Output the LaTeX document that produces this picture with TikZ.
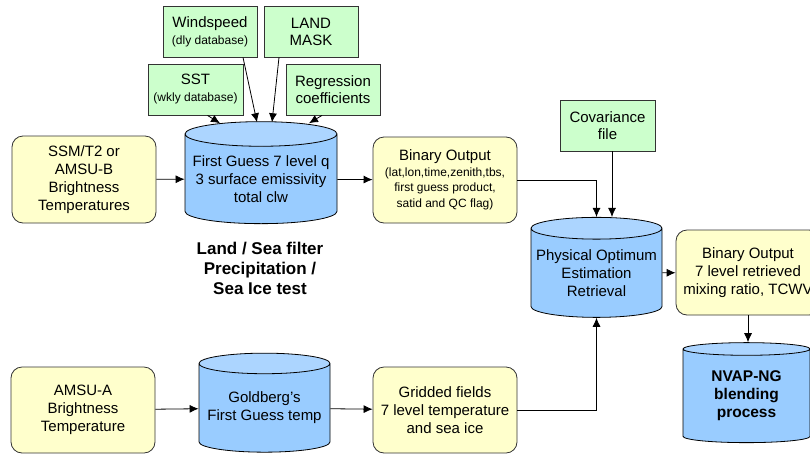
\documentclass[tikz,border=0pt]{standalone}
\usepackage{fontspec}
\setmainfont{Liberation Sans}
\usetikzlibrary{shapes.geometric,arrows.meta}
\definecolor{boxyellow}{RGB}{255,255,204}
\definecolor{boxgreen}{RGB}{204,255,204}
\definecolor{cylbody}{RGB}{153,204,255}
\definecolor{cyltop}{RGB}{172,213,255}
\tikzset{
  databox/.style={draw=black!80, fill=boxyellow, rounded corners=11pt, line width=0.8pt,
    align=center, inner sep=2pt, font=\fontsize{15}{18}\selectfont},
  inputbox/.style={draw=black!80, fill=boxgreen, line width=0.8pt, align=center,
    inner sep=2pt, font=\fontsize{15}{17}\selectfont},
  store/.style={cylinder, shape border rotate=90, aspect=0.18, draw=black, line width=0.8pt,
    cylinder uses custom fill, cylinder body fill=cylbody, cylinder end fill=cyltop,
    align=center, inner sep=0pt, font=\fontsize{15}{18}\selectfont},
  flow/.style={-{Latex[length=9pt,width=8pt]}, line width=0.8pt},
}
\newcommand{\smalltxt}{\fontsize{12}{15.5}\selectfont}
\begin{document}
\begin{tikzpicture}[x=1pt,y=-1pt]
  \useasboundingbox (0,0) rectangle (810,458);
  % inputs
  \node[inputbox, minimum width=94pt, minimum height=51pt] (wind) at (210,31.5)
    {Windspeed\\{\smalltxt (dly database)}};
  \node[inputbox, minimum width=94pt, minimum height=51pt] (mask) at (311,31.5) {LAND\\MASK};
  \node[inputbox, minimum width=95pt, minimum height=51pt] (sst) at (195.5,89.5)
    {SST\\{\smalltxt (wkly database)}};
  \node[inputbox, minimum width=94pt, minimum height=51pt] (regr) at (333,89.5)
    {Regression\\coefficients};
  \node[inputbox, minimum width=95pt, minimum height=51pt] (cov) at (607.5,125.5)
    {Covariance\\file};
  % first guess chain
  \node[databox, minimum width=144pt, minimum height=87pt] (ssm) at (84,179.5)
    {SSM/T2 or\\AMSU-B\\Brightness\\Temperatures};
  \node[store, minimum width=152pt, minimum height=102pt] (fg) at (261,179)
    {First Guess 7 level q\\3 surface emissivity\\total clw};
  \node[databox, minimum width=144pt, minimum height=86pt, font=\smalltxt] (binA) at (445,180)
    {{\fontsize{15}{18}\selectfont Binary Output}\\(lat,lon,time,zenith,tbs,\\first guess product,\\satid and QC flag)};
  \node[font=\bfseries\fontsize{17}{20}\selectfont, align=center] (filt) at (260,268)
    {Land / Sea filter\\Precipitation /\\Sea Ice test};
  % retrieval
  \node[store, minimum width=131pt, minimum height=100pt] (poe) at (596.5,273)
    {Physical Optimum\\Estimation\\Retrieval};
  \node[databox, minimum width=144pt, minimum height=85pt] (binB) at (748,272.5)
    {Binary Output\\7 level retrieved\\mixing ratio, TCWV};
  \node[store, minimum width=127pt, minimum height=100pt, font=\bfseries\fontsize{15.5}{18}\selectfont]
    (nvap) at (746.5,396) {NVAP-NG\\blending\\process};
  % temperature chain
  \node[databox, minimum width=144pt, minimum height=86pt] (amsua) at (83,410)
    {AMSU-A\\Brightness\\Temperature};
  \node[store, minimum width=131pt, minimum height=99pt] (gold) at (264.5,408)
    {Goldberg’s\\First Guess temp};
  \node[databox, minimum width=144pt, minimum height=86pt] (grid) at (445,410)
    {Gridded fields\\7 level temperature\\and sea ice};
  % arrows
  \draw[flow] ([xshift=12pt]sst.south) -- ([xshift=-41pt,yshift=-2pt]fg.north);
  \draw[flow] ([xshift=33pt]wind.south) -- ([xshift=-4pt,yshift=-1pt]fg.north);
  \draw[flow] ([xshift=-32pt]mask.south) -- ([xshift=11pt,yshift=-1pt]fg.north);
  \draw[flow] ([xshift=-11pt]regr.south) -- ([xshift=48pt,yshift=-2pt]fg.north);
  \draw[flow] (ssm) -- (fg);
  \draw[flow] (fg) -- (binA);
  \draw[flow] (binA.east) -| (poe.north);
  \draw[flow] ([xshift=4.5pt]cov.south) -- ([xshift=4.5pt]cov.south |- poe.north);
  \draw[flow] (poe) -- (binB);
  \draw[flow] (binB.south) -- (binB.south |- nvap.north);
  \draw[flow] (amsua) -- (gold);
  \draw[flow] (gold) -- (grid);
  \draw[flow] (grid.east) -| (poe.south);
\end{tikzpicture}
\end{document}
